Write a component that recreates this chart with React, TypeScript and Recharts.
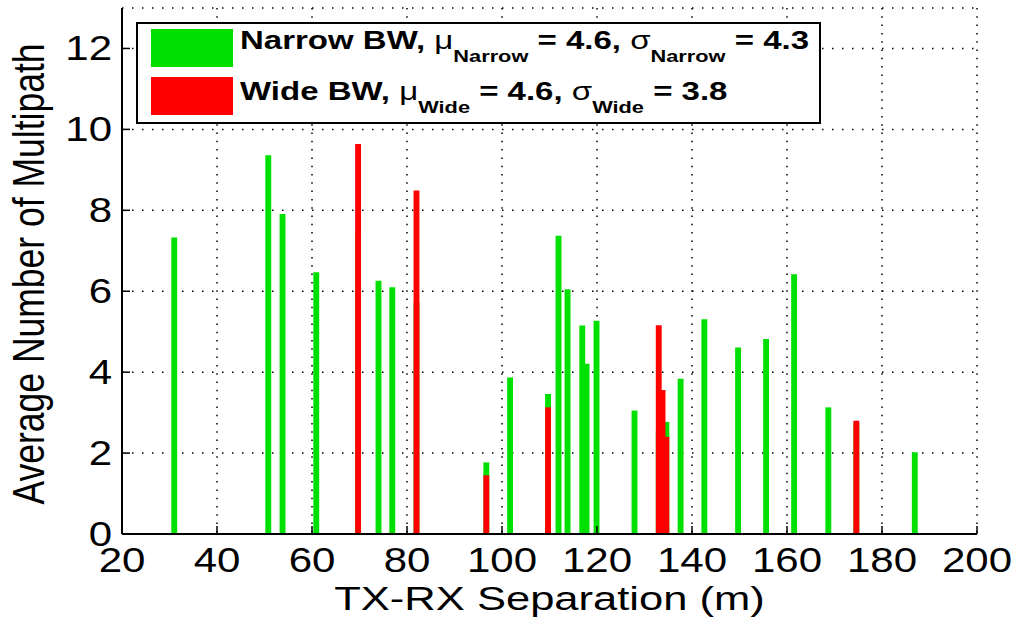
import React from 'react';
import { ComposedChart, XAxis, YAxis, CartesianGrid, ReferenceArea, Legend, Label } from 'recharts';

// TX-RX separation (m) and average multipath count per location
const narrowX = [31.0, 50.8, 53.8, 60.9, 69.7, 74.0, 76.9, 82.0, 96.7, 101.7, 109.7, 111.9, 113.8, 116.9, 117.8, 119.9, 127.9, 133.0, 133.8, 134.6, 137.6, 142.6, 149.7, 155.6, 161.5, 168.7, 174.6, 186.9];
const narrowY = [7.33, 9.36, 7.91, 6.47, 7.45, 6.26, 6.10, 5.72, 1.77, 3.87, 3.46, 7.37, 6.05, 5.15, 4.21, 5.27, 3.05, 2.55, 2.49, 2.77, 3.84, 5.31, 4.61, 4.82, 6.42, 3.13, 2.75, 2.02];

const wideX = [69.7, 82.0, 96.7, 109.7, 133.0, 133.8, 134.6, 174.6];
const wideY = [9.64, 8.49, 1.45, 3.13, 5.16, 3.56, 2.40, 2.80];

const xTicks = [20, 40, 60, 80, 100, 120, 140, 160, 180, 200];
const yTicks = [0, 2, 4, 6, 8, 10, 12];

const narrowName = 'Narrow BW';
const wideName = 'Wide BW';
const narrowMu = 4.6;
const narrowSigma = 4.3;
const wideMu = 4.6;
const wideSigma = 3.8;

const GREEN = '#00e000';
const RED = '#ff0000';
const BAR_W = 1.24;
const FONT = '"Liberation Sans", Arial, Helvetica, sans-serif';
const TICK_LEN = 8;

const rows = narrowX.map((x, i) => ({ x, narrow: narrowY[i] }));

const BottomTick = (props: any) => {
  const { x, y, payload } = props;
  return (
    <g>
      <line x1={x} x2={x} y1={y} y2={y - TICK_LEN} stroke="#000" strokeWidth={1.5} />
      <text transform={`translate(${x},${y + 38}) scale(1.2,1)`} textAnchor="middle" fontFamily={FONT} fontSize={35} fill="#000">
        {payload.value}
      </text>
    </g>
  );
};

const LeftTick = (props: any) => {
  const { x, y, payload } = props;
  return (
    <g>
      <line x1={x} x2={x + TICK_LEN} y1={y} y2={y} stroke="#000" strokeWidth={1.5} />
      <text transform={`translate(${x - 10},${y + 12}) scale(1.2,1)`} textAnchor="end" fontFamily={FONT} fontSize={35} fill="#000">
        {payload.value}
      </text>
    </g>
  );
};

const TopTick = (props: any) => {
  const { x, y } = props;
  return <line x1={x} x2={x} y1={y} y2={y + TICK_LEN} stroke="#000" strokeWidth={1.5} />;
};

const RightTick = (props: any) => {
  const { x, y } = props;
  return <line x1={x} x2={x - TICK_LEN} y1={y} y2={y} stroke="#000" strokeWidth={1.5} />;
};

const LegendBox = () => {
  const line = (name: string, key: string, mu: number, sigma: number, y: number) => (
    <text transform={`translate(104,${y}) scale(1.32,1)`} fontFamily={FONT} fontSize={25} fontWeight="bold" fill="#000">
      {name}, <tspan fontWeight="normal">μ</tspan>
      <tspan fontSize={16.5} dy={13}>{key}</tspan>
      <tspan dy={-13}> = {mu.toFixed(1)}, </tspan>
      <tspan fontWeight="normal">σ</tspan>
      <tspan fontSize={16.5} dy={13}>{key}</tspan>
      <tspan dy={-13}> = {sigma.toFixed(1)}</tspan>
    </text>
  );
  return (
    <svg width={685} height={102} style={{ display: 'block' }}>
      <rect x={1} y={1} width={683} height={100} fill="#fff" stroke="#000" strokeWidth={2} />
      <rect x={15} y={7} width={82} height={38} fill={GREEN} />
      <rect x={15} y={55} width={82} height={38} fill={RED} />
      {line(narrowName, 'Narrow', narrowMu, narrowSigma, 27)}
      {line(wideName, 'Wide', wideMu, wideSigma, 78)}
    </svg>
  );
};

export default function App() {
  return (
    <div style={{ position: 'absolute', left: 0, top: 0, background: '#fff' }}>
      <ComposedChart width={1012} height={619} data={rows} margin={{ top: 8, right: 35, bottom: 0, left: 0 }}>
        <CartesianGrid vertical={false} stroke="#000" strokeWidth={1.5} strokeDasharray="1.5 8.5" />
        <CartesianGrid horizontal={false} stroke="#000" strokeWidth={1.5} strokeDasharray="1.5 6.8" />

        <XAxis dataKey="x" type="number" domain={[20, 200]} ticks={xTicks} allowDataOverflow
          height={85} tickSize={0} tickMargin={0} tickLine={false} tick={<BottomTick />}
          axisLine={{ stroke: '#000', strokeWidth: 2 }}>
          <Label content={(p: any) => {
            const vb = p.viewBox;
            return (
              <text transform={`translate(${vb.x + vb.width / 2},${vb.y + 76}) scale(1.32,1)`} textAnchor="middle" fontFamily={FONT} fontSize={33} fill="#000">
                TX-RX Separation (m)
              </text>
            );
          }} />
        </XAxis>
        <XAxis xAxisId="top" orientation="top" dataKey="x" type="number" domain={[20, 200]} ticks={xTicks} allowDataOverflow
          height={0} tickSize={0} tickMargin={0} tickLine={false} tick={<TopTick />}
          axisLine={{ stroke: '#000', strokeWidth: 2 }} />

        <YAxis type="number" domain={[0, 13]} ticks={yTicks} allowDataOverflow
          width={122} tickSize={0} tickMargin={0} tickLine={false} tick={<LeftTick />}
          axisLine={{ stroke: '#000', strokeWidth: 2 }}>
          <Label content={(p: any) => {
            const vb = p.viewBox;
            return (
              <text transform={`translate(44,${vb.y + vb.height / 2 + 3}) scale(1.25,1) rotate(-90)`} textAnchor="middle" fontFamily={FONT} fontSize={35.5} fill="#000">
                Average Number of Multipath
              </text>
            );
          }} />
        </YAxis>
        <YAxis yAxisId="right" orientation="right" type="number" domain={[0, 13]} ticks={yTicks} allowDataOverflow
          width={0} tickSize={0} tickMargin={0} tickLine={false} tick={<RightTick />}
          axisLine={{ stroke: '#000', strokeWidth: 2 }} />

        {narrowX.map((x, i) => (
          <ReferenceArea key={`n${i}`} x1={x - BAR_W / 2} x2={x + BAR_W / 2} y1={0} y2={narrowY[i]}
            fill={GREEN} fillOpacity={1} stroke="none" />
        ))}
        {wideX.map((x, i) => (
          <ReferenceArea key={`w${i}`} x1={x - BAR_W / 2} x2={x + BAR_W / 2} y1={0} y2={wideY[i]}
            fill={RED} fillOpacity={1} stroke="none" />
        ))}

        <Legend layout="horizontal" verticalAlign="middle" align="center"
          wrapperStyle={{ top: 22, left: 136, width: 685, height: 102 }} content={<LegendBox />} />
      </ComposedChart>
    </div>
  );
}
